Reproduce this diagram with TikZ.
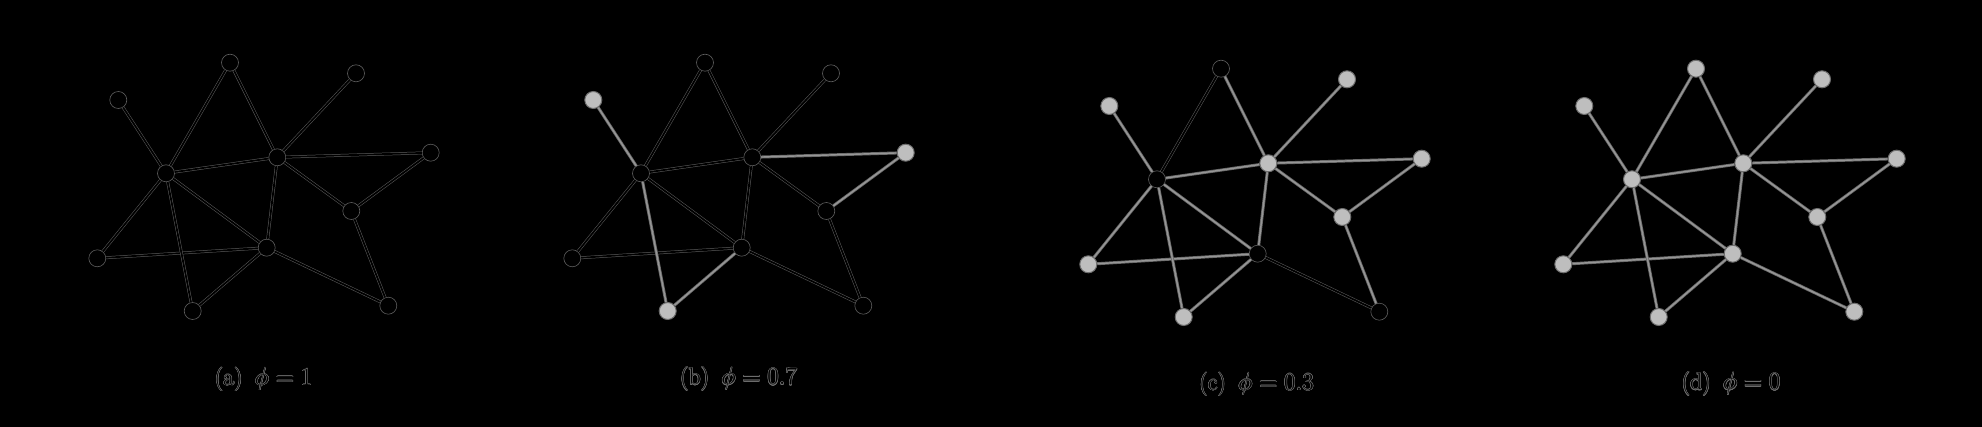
\documentclass[tikz,border=0pt]{standalone}
\usepackage[copies]{contour}
\contourlength{0.5pt}
\definecolor{halo}{RGB}{95,95,95}
\definecolor{thalo}{RGB}{110,110,110}
\definecolor{gout}{RGB}{105,105,105}
\definecolor{gin}{RGB}{150,150,150}
\definecolor{gfill}{RGB}{190,190,190}
\definecolor{gedge}{RGB}{110,110,110}
\tikzset{
  bn/.style={circle, inner sep=0pt, minimum size=17pt, fill=black, draw=halo, line width=0.6pt},
  gn/.style={circle, inner sep=0pt, minimum size=17pt, fill=gfill, draw=gedge, line width=1pt},
  be/.style={draw=halo, double=black, double distance=1.8pt, line width=0.5pt},
  ge/.style={draw=gout, double=gin, double distance=1.4pt, line width=0.8pt},
  lbl/.style={anchor=base, inner sep=0pt, font=\fontsize{24}{28}\selectfont, text=black}
}
\begin{document}
\begin{tikzpicture}[x=1pt, y=-1pt]
\fill[black] (0,0) rectangle (1982,427);
\useasboundingbox (0,0) rectangle (1982,427);
% ---------- panel (a) ----------
\foreach \n/\x/\y/\s in {T/230/62.7/bn, L/118.3/100/bn, R/356/73.3/bn, A/166/173.3/bn, B/277.3/157.3/bn, Q/430.7/152.7/bn, M/351.3/211/bn, C/266.7/247.7/bn, W/97.3/258.3/bn, S/192.7/311/bn, E/388.3/305.7/bn}
  \path (\x,\y) node[\s] (a\n) {};
\foreach \u/\v/\s in {L/A/be, T/A/be, T/B/be, B/R/be, A/B/be, B/Q/be, B/M/be, Q/M/be, M/E/be, C/E/be, B/C/be, A/C/be, A/W/be, W/C/be, A/S/be, S/C/be}
  \draw[\s] (a\u) -- (a\v);
% ---------- panel (b) ----------
\foreach \n/\x/\y/\s in {T/230/62.7/bn, L/118.3/100/gn, R/356/73.3/bn, A/166/173.3/bn, B/277.3/157.3/bn, Q/430.7/152.7/gn, M/351.3/211/bn, C/266.7/247.7/bn, W/97.3/258.3/bn, S/192.7/311/gn, E/388.3/305.7/bn}
  \path (\x+475,\y) node[\s] (b\n) {};
\foreach \u/\v/\s in {L/A/ge, T/A/be, T/B/be, B/R/be, A/B/be, B/Q/ge, B/M/be, Q/M/ge, M/E/be, C/E/be, B/C/be, A/C/be, A/W/be, W/C/be, A/S/ge, S/C/ge}
  \draw[\s] (b\u) -- (b\v);
% ---------- panel (c) ----------
\foreach \n/\x/\y/\s in {T/230/62.7/bn, L/118.3/100/gn, R/356/73.3/gn, A/166/173.3/bn, B/277.3/157.3/gn, Q/430.7/152.7/gn, M/351.3/211/gn, C/266.7/247.7/bn, W/97.3/258.3/gn, S/192.7/311/gn, E/388.3/305.7/bn}
  \path (\x+991,\y+6) node[\s] (c\n) {};
\foreach \u/\v/\s in {L/A/ge, T/A/be, T/B/ge, B/R/ge, A/B/ge, B/Q/ge, B/M/ge, Q/M/ge, M/E/ge, C/E/be, B/C/ge, A/C/ge, A/W/ge, W/C/ge, A/S/ge, S/C/ge}
  \draw[\s] (c\u) -- (c\v);
% ---------- panel (d) ----------
\foreach \n/\x/\y/\s in {T/230/62.7/gn, L/118.3/100/gn, R/356/73.3/gn, A/166/173.3/gn, B/277.3/157.3/gn, Q/430.7/152.7/gn, M/351.3/211/gn, C/266.7/247.7/gn, W/97.3/258.3/gn, S/192.7/311/gn, E/388.3/305.7/gn}
  \path (\x+1466,\y+6) node[\s] (d\n) {};
\foreach \u/\v/\s in {L/A/ge, T/A/ge, T/B/ge, B/R/ge, A/B/ge, B/Q/ge, B/M/ge, Q/M/ge, M/E/ge, C/E/ge, B/C/ge, A/C/ge, A/W/ge, W/C/ge, A/S/ge, S/C/ge}
  \draw[\s] (d\u) -- (d\v);
% ---------- labels ----------
\node[lbl] (la) at (263.5,385.5) {\contour{thalo}{(a)\enspace$\phi = 1$}};
\node[lbl] (lb) at (738.5,385) {\contour{thalo}{(b)\enspace$\phi = 0.7$}};
\node[lbl] (lc) at (1256.5,390.5) {\contour{thalo}{(c)\enspace$\phi = 0.3$}};
\node[lbl] (ld) at (1731,390) {\contour{thalo}{(d)\enspace$\phi = 0$}};
\end{tikzpicture}
\end{document}
